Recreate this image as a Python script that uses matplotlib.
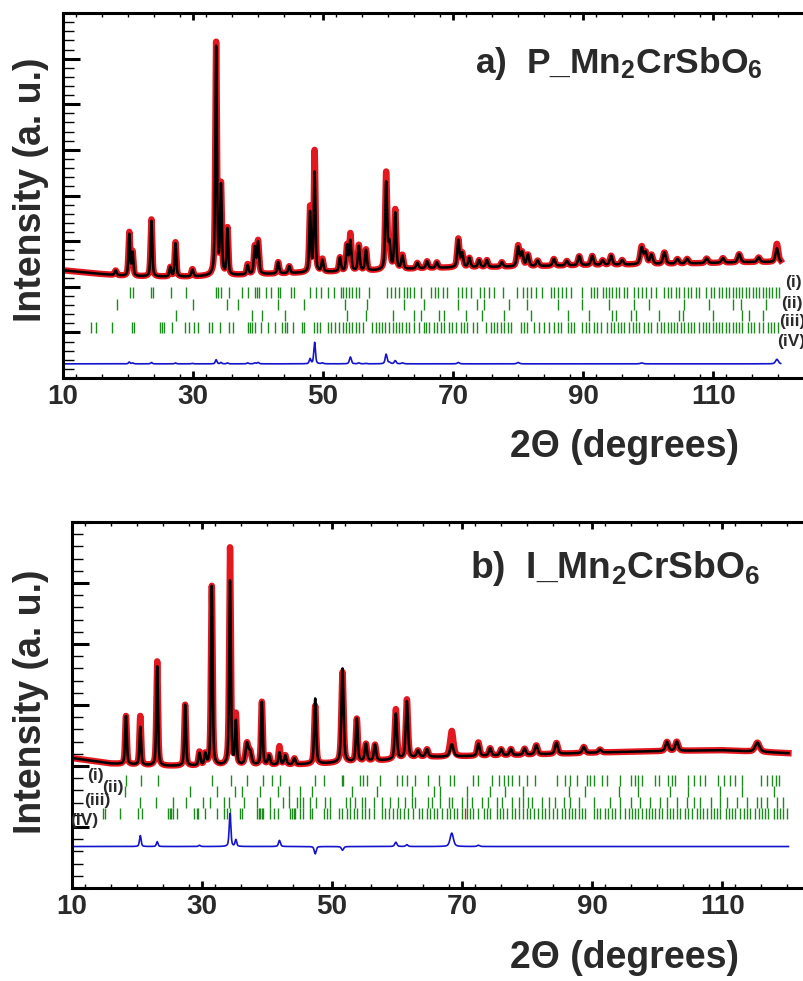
import numpy as np
import matplotlib
matplotlib.use('Agg')
import matplotlib.pyplot as plt
from matplotlib.ticker import MultipleLocator, NullFormatter

plt.rcParams['font.family'] = ['Liberation Sans', 'DejaVu Sans']
plt.rcParams['font.weight'] = 'bold'
plt.rcParams['mathtext.fontset'] = 'custom'
plt.rcParams['mathtext.rm'] = 'Liberation Sans:bold'
plt.rcParams['mathtext.default'] = 'rm'

# ------------------------------------------------------------------ data
# panel a) background knots (2theta, level)
a_bg_2theta = [10, 15, 20, 25, 30, 40, 50, 60, 65, 70, 80, 90, 100, 110, 116, 120.4]
a_bg_level = [2.36, 2.29, 2.23, 2.22, 2.22, 2.27, 2.32, 2.36, 2.40, 2.42, 2.44, 2.47, 2.49, 2.52, 2.54, 2.54]
# panel a) reflections: position, calculated height, observed height, width
a_peak_pos = [18.1, 20.2, 20.7, 23.6, 26.5, 27.3, 29.9, 33.55, 34.3, 35.3, 38.4, 39.5, 40.0,
              43.1, 44.8, 48.0, 48.7, 49.9, 52.6, 53.7, 54.2, 55.5, 56.6, 59.7, 60.2, 61.1,
              62.2, 64.5, 66.0, 67.5, 70.8, 71.4, 72.5, 74.0, 75.2, 77.5, 80.0, 80.6, 81.5,
              83.0, 85.5, 87.5, 89.4, 91.4, 93.0, 94.3, 96.0, 99.0, 99.6, 100.5, 102.5,
              104.5, 106.0, 109.0, 111.5, 114.0, 117.0, 119.8]
a_peak_calc = [0.10, 0.91, 0.50, 1.22, 0.20, 0.73, 0.15, 5.02, 1.92, 1.00, 0.20, 0.58, 0.69,
               0.25, 0.15, 1.30, 2.18, 0.25, 0.30, 0.55, 0.65, 0.54, 0.45, 1.90, 0.55, 1.23,
               0.28, 0.12, 0.15, 0.12, 0.59, 0.30, 0.20, 0.15, 0.15, 0.10, 0.42, 0.30, 0.25,
               0.12, 0.15, 0.10, 0.20, 0.20, 0.10, 0.20, 0.10, 0.36, 0.25, 0.20, 0.25,
               0.10, 0.10, 0.10, 0.10, 0.18, 0.10, 0.30]
a_peak_obs = [0.10, 0.95, 0.52, 1.25, 0.20, 0.75, 0.16, 5.11, 1.95, 1.02, 0.22, 0.60, 0.72,
              0.25, 0.15, 1.41, 2.65, 0.27, 0.30, 0.55, 0.80, 0.56, 0.46, 2.11, 0.58, 1.30,
              0.30, 0.12, 0.15, 0.12, 0.62, 0.30, 0.20, 0.15, 0.15, 0.10, 0.45, 0.30, 0.25,
              0.12, 0.15, 0.10, 0.20, 0.20, 0.10, 0.20, 0.10, 0.38, 0.25, 0.20, 0.25,
              0.10, 0.10, 0.10, 0.10, 0.18, 0.10, 0.40]
a_peak_fwhm = [0.35, 0.30, 0.30, 0.30, 0.30, 0.30, 0.35, 0.30, 0.30, 0.30, 0.35, 0.35, 0.35,
               0.35, 0.35, 0.30, 0.30, 0.35, 0.35, 0.35, 0.35, 0.35, 0.35, 0.35, 0.40, 0.35,
               0.40, 0.40, 0.40, 0.40, 0.40, 0.40, 0.40, 0.40, 0.40, 0.40, 0.45, 0.45, 0.45,
               0.45, 0.45, 0.45, 0.45, 0.45, 0.45, 0.45, 0.45, 0.50, 0.50, 0.50, 0.50,
               0.50, 0.50, 0.50, 0.50, 0.50, 0.50, 0.50]
# panel a) Bragg positions of phases (i)-(iv)
a_ticks_i = [20.3, 20.8, 23.5, 23.9, 26.6, 28.9, 33.5, 33.9, 34.3, 35.5, 37.6, 38.4, 39.5, 39.8,
             40.2, 41.2, 42.0, 43.0, 43.3, 45.0, 45.5, 48.0, 48.9, 49.7, 50.7, 51.7, 52.7, 53.1,
             53.5, 54.0, 54.5, 55.0, 55.5, 57.0, 59.9, 60.5, 61.1, 61.7, 62.4, 62.9, 63.4, 64.0,
             65.1, 66.6, 67.2, 67.7, 68.4, 69.1, 70.7, 71.3, 72.0, 72.7, 74.2, 74.8, 75.5, 76.3,
             77.7, 79.9, 80.7, 81.3, 82.0, 82.7, 83.6, 85.0, 85.5, 86.1, 86.8, 87.3, 88.1, 89.9,
             91.2, 91.7, 92.2, 93.0, 93.5, 94.0, 94.5, 95.0, 95.5, 96.3, 96.8, 97.8, 98.4, 99.1,
             99.6, 100.4, 101.2, 102.5, 103.0, 103.5, 104.3, 104.8, 105.5, 106.1, 106.6, 107.3,
             107.8, 108.9, 109.6, 110.2, 110.9, 111.4, 112.0, 112.5, 113.0, 113.5, 114.0, 114.5,
             115.0, 115.5, 116.1, 116.6, 117.1, 117.6, 118.1, 118.6, 119.1, 119.6, 120.2]
a_ticks_ii = [18.3, 30.0, 35.3, 36.9, 43.0, 47.1, 53.3, 56.8, 62.5, 65.5, 70.7, 73.7, 74.8,
              78.6, 81.4, 86.1, 89.9, 94.0, 97.8, 100.2, 105.5, 109.4, 113.0, 114.3, 118.1]
a_ticks_iii = [27.4, 39.1, 40.6, 44.2, 53.7, 56.6, 60.7, 64.0, 65.0, 67.8, 68.6, 72.0, 74.5,
               77.8, 82.0, 87.6, 90.9, 94.5, 95.0, 97.3, 98.1, 101.7, 104.8, 105.3, 109.9,
               114.5, 115.5, 117.6]
a_ticks_iv = [14.3, 15.1, 17.5, 20.6, 20.9, 24.9, 25.2, 25.5, 26.8, 28.8, 29.4, 30.1, 30.8,
              32.5, 32.9, 34.2, 35.5, 36.1, 38.4, 38.7, 39.1, 39.5, 40.4, 41.6, 42.6, 43.7,
              44.1, 44.4, 45.3, 46.7, 47.1, 48.6, 49.1, 49.6, 50.7, 51.2, 51.9, 52.5, 53.0,
              53.5, 54.0, 54.5, 55.0, 55.5, 56.1, 57.6, 58.1, 58.6, 59.1, 59.6, 60.2, 60.7,
              61.2, 61.7, 62.2, 62.7, 63.2, 64.0, 64.8, 65.5, 65.9, 66.3, 67.1, 67.6, 68.1,
              68.6, 69.4, 69.9, 70.4, 71.2, 71.7, 72.2, 73.0, 73.7, 75.0, 75.8, 76.3, 76.8,
              77.3, 77.8, 78.4, 78.9, 80.4, 80.9, 81.4, 82.5, 83.2, 84.0, 84.8, 85.5, 86.1,
              86.6, 87.6, 88.1, 88.6, 89.9, 90.4, 90.9, 91.7, 92.2, 92.7, 93.7, 94.3, 94.8,
              95.3, 95.8, 96.3, 97.1, 97.6, 98.1, 98.6, 99.4, 99.9, 100.4, 101.4, 102.0,
              102.5, 103.0, 103.5, 104.0, 104.5, 105.0, 105.5, 106.1, 106.6, 107.1, 107.8,
              108.4, 108.9, 109.4, 109.9, 110.4, 110.9, 111.4, 112.0, 112.5, 113.0, 113.5,
              114.0, 114.5, 115.3, 115.8, 116.3, 117.1, 117.6, 118.4, 118.9, 119.4, 119.9]

# panel b)
b_bg_2theta = [10, 16, 23.5, 29, 44, 49, 59.4, 63.5, 66.6, 79, 94.3, 109.7, 120.2]
b_bg_level = [2.13, 2.04, 2.00, 2.00, 2.02, 2.04, 2.10, 2.15, 2.15, 2.18, 2.23, 2.26, 2.21]
b_peak_pos = [18.3, 20.5, 23.1, 27.4, 29.6, 30.5, 31.5, 34.3, 35.2, 36.9, 37.4, 39.2, 40.3,
              41.9, 42.8, 44.2, 47.4, 51.6, 53.8, 55.2, 56.6, 59.8, 61.5, 63.2, 64.6, 68.4,
              72.5, 74.3, 76.0, 77.5, 79.6, 81.4, 84.5, 88.7, 91.2, 101.5, 103.0, 115.4]
b_peak_calc = [0.79, 0.62, 1.63, 1.00, 0.20, 0.18, 2.94, 3.02, 0.70, 0.34, 0.20, 1.03, 0.15,
               0.20, 0.15, 0.10, 1.07, 1.54, 0.70, 0.28, 0.26, 0.75, 0.93, 0.10, 0.12, 0.20,
               0.20, 0.12, 0.10, 0.10, 0.10, 0.15, 0.18, 0.10, 0.05, 0.15, 0.15, 0.15]
b_peak_obs = [0.79, 0.80, 1.71, 1.00, 0.22, 0.18, 2.94, 3.56, 0.81, 0.34, 0.20, 1.03, 0.15,
              0.30, 0.15, 0.10, 0.95, 1.48, 0.70, 0.28, 0.26, 0.82, 0.96, 0.10, 0.12, 0.42,
              0.22, 0.12, 0.10, 0.10, 0.10, 0.15, 0.18, 0.10, 0.05, 0.15, 0.15, 0.15]
b_peak_fwhm = [0.30, 0.30, 0.30, 0.30, 0.35, 0.35, 0.30, 0.30, 0.30, 0.50, 0.50, 0.30, 0.40,
               0.35, 0.40, 0.40, 0.35, 0.40, 0.35, 0.40, 0.40, 0.40, 0.40, 0.45, 0.45, 0.60,
               0.45, 0.45, 0.45, 0.45, 0.45, 0.50, 0.50, 0.50, 0.50, 0.55, 0.55, 0.80]
b_ticks_i = [18.3, 20.6, 23.2, 31.6, 34.4, 36.9, 39.4, 40.7, 42.0, 47.4, 48.7, 51.5, 51.7, 54.3,
             54.8, 55.3, 57.4, 60.0, 60.7, 61.5, 62.8, 64.8, 66.4, 68.2, 68.7, 71.7, 72.5, 74.6,
             75.6, 76.4, 77.1, 77.6, 78.7, 80.0, 81.2, 84.6, 85.8, 86.6, 87.6, 89.2, 89.7, 90.2,
             91.5, 92.3, 94.3, 95.9, 96.6, 97.1, 97.6, 99.7, 100.2, 101.7, 102.3, 102.8, 104.8,
             105.6, 106.6, 107.4, 109.4, 110.2, 111.2, 112.0, 113.0, 115.9, 116.9, 117.6, 118.2,
             118.7]
b_ticks_ii = [18.1, 28.1, 32.3, 35.1, 36.1, 38.9, 41.7, 43.3, 45.1, 46.9, 53.0, 56.9, 62.3, 65.6,
              66.6, 70.7, 74.3, 76.6, 79.4, 86.4, 88.9, 94.1, 97.1, 102.0, 104.8, 109.7, 113.0,
              117.9]
b_ticks_iii = [20.5, 22.9, 25.5, 27.6, 30.1, 31.2, 33.3, 34.2, 36.4, 38.4, 40.4, 42.5, 43.3, 44.6,
               45.1, 45.6, 46.6, 47.6, 48.9, 49.7, 52.2, 52.8, 53.5, 54.6, 55.1, 56.4, 57.6, 58.9,
               60.2, 61.2, 62.3, 62.8, 64.8, 65.3, 66.6, 67.9, 68.4, 70.0, 70.7, 71.5, 73.0, 74.0,
               75.3, 76.1, 77.6, 78.7, 79.4, 80.2, 80.7, 82.3, 83.3, 84.3, 85.6, 86.6, 87.9, 90.2,
               92.8, 94.3, 95.9, 97.4, 98.9, 100.5, 101.5, 103.0, 104.6, 105.6, 106.6, 108.2,
               109.7, 110.7, 112.3, 113.8, 115.3, 115.9, 116.9, 118.4, 119.4]
b_ticks_iv = [14.8, 15.1, 17.4, 20.2, 20.7, 24.8, 25.1, 25.3, 25.6, 26.2, 28.7, 29.2, 29.4, 30.5,
              32.3, 33.3, 33.8, 34.3, 35.8, 36.1, 38.4, 38.7, 38.9, 39.2, 39.4, 40.5, 41.0, 41.7,
              43.5, 43.8, 44.1, 44.3, 45.1, 45.6, 46.6, 46.9, 48.7, 49.2, 49.7, 51.0, 51.5, 52.3,
              52.8, 53.3, 53.8, 54.6, 55.1, 55.6, 56.4, 57.6, 58.1, 58.7, 59.4, 60.0, 60.5, 61.0,
              61.7, 62.5, 63.3, 63.8, 64.6, 65.1, 65.6, 66.1, 66.9, 67.6, 68.2, 68.7, 69.2, 70.0,
              70.7, 71.2, 71.7, 72.5, 73.3, 73.8, 74.3, 75.3, 75.8, 76.3, 76.9, 77.6, 78.1, 78.7,
              79.4, 80.0, 80.5, 81.0, 81.7, 82.3, 82.8, 83.3, 84.0, 84.6, 85.3, 85.8, 86.4, 86.9,
              87.4, 87.9, 88.4, 88.9, 90.2, 90.7, 91.2, 92.0, 92.5, 93.0, 93.5, 94.3, 95.1, 95.6,
              96.1, 96.6, 97.1, 97.6, 98.2, 98.7, 99.2, 99.7, 100.2, 100.7, 101.5, 102.0, 102.5,
              103.0, 103.5, 104.3, 104.8, 105.3, 106.1, 106.6, 107.1, 107.6, 108.2, 108.7, 109.2,
              109.7, 110.5, 111.0, 111.5, 112.0, 112.8, 113.3, 113.8, 114.3, 115.1, 115.6, 116.1,
              116.6, 117.1, 117.9, 118.4, 118.9, 119.4, 119.9]
b_ticks_red = [70.4]

phase_labels_a = ['(i)', '(ii)', '(iii)', '(iV)']
phase_labels_b = ['(i)', '(ii)', '(iii)', '(IV)']
x_tick_labels = ['10', '30', '50', '70', '90', '110']

# ------------------------------------------------------------------ helpers
def profile(x, pos, heights, fwhm, eta=0.5):
    y = np.zeros_like(x)
    for p, h, w in zip(pos, heights, fwhm):
        g = np.exp(-4 * np.log(2) * ((x - p) / w) ** 2)
        l = 1.0 / (1.0 + 4 * ((x - p) / w) ** 2)
        y += h * (eta * l + (1 - eta) * g)
    return y

TXT = '#2a2a2a'
GREEN = '#1d8a1d'
W, H = 804, 981

fig = plt.figure(figsize=(8.04, 9.81), dpi=100)

def make_panel(rect, xmax, ymax, bg_x, bg_y, pos, calc_h, obs_h, fwhm, ticks, tick_rows,
               diff_off, x_end, title, title_px, title_size, ylab_px, xlab_px, plabels,
               plabel_xy):
    ax = fig.add_axes(rect)
    x = np.arange(10, x_end, 0.02)
    bg = np.interp(x, bg_x, bg_y)
    calc = bg + profile(x, pos, calc_h, fwhm)
    obs = bg + profile(x, pos, obs_h, fwhm)
    diff = obs - calc + diff_off
    ax.plot(x, obs, color='#e3171e', lw=4.6, zorder=2)
    ax.plot(x[::2], obs[::2], 's', color='#e3171e', ms=2.6, mew=0, zorder=2)
    ax.plot(x, calc, color='black', lw=1.8, zorder=3)
    for tk, (y0, y1) in zip(ticks, tick_rows):
        ax.vlines(tk, y0, y1, color=GREEN, lw=1.0, zorder=2)
    ax.plot(x, diff, color='#1414cc', lw=1.2, zorder=2)
    ax.set_xlim(10, xmax)
    ax.set_ylim(0, ymax)
    ax.xaxis.set_minor_locator(MultipleLocator(4))
    ax.set_xticks([10, 30, 50, 70, 90, 110])
    ax.set_xticklabels(x_tick_labels)
    ax.yaxis.set_major_locator(MultipleLocator(1))
    ax.yaxis.set_minor_locator(MultipleLocator(0.2))
    ax.yaxis.set_major_formatter(NullFormatter())
    ax.tick_params(axis='x', which='major', direction='in', top=True, length=5, width=2,
                   labelsize=20, pad=4, labelcolor=TXT)
    ax.tick_params(axis='x', which='minor', direction='in', top=True, length=3, width=1)
    ax.tick_params(axis='y', which='major', direction='in', length=12, width=2.2)
    ax.tick_params(axis='y', which='minor', direction='in', length=8, width=1)
    for lab in ax.get_xticklabels():
        lab.set_fontweight('bold')
    for s in ax.spines.values():
        s.set_linewidth(2.2)
    fig.text(title_px[0] / W, 1 - title_px[1] / H, title, fontsize=title_size,
             fontweight='bold', color=TXT, ha='left', va='baseline')
    fig.text(ylab_px[0] / W, 1 - ylab_px[1] / H, 'Intensity (a. u.)', rotation=90,
             fontsize=27, fontweight='bold', color=TXT, ha='center', va='center')
    fig.text(xlab_px[0] / W, 1 - xlab_px[1] / H, '2Θ (degrees)', fontsize=27,
             fontweight='bold', color=TXT, ha='center', va='center')
    for lab, (lx, ly) in zip(plabels, plabel_xy):
        ax.text(lx, ly, lab, fontsize=12.5, fontweight='bold', color=TXT, ha='left',
                va='center', clip_on=False)
    return ax

# panel a
axa = make_panel([63 / W, 1 - 378 / H, 749 / W, 365 / H], 125.2, 8,
                 a_bg_2theta, a_bg_level, a_peak_pos, a_peak_calc, a_peak_obs, a_peak_fwhm,
                 [a_ticks_i, a_ticks_ii, a_ticks_iii, a_ticks_iv],
                 [(1.76, 1.99), (1.50, 1.74), (1.24, 1.48), (0.98, 1.22)],
                 0.31, 120.4, r'a)  P_Mn$_2$CrSbO$_6$', (475, 73), 25.5, (31, 190), (625, 447),
                 phase_labels_a, [(121.0, 2.10), (120.4, 1.64), (120.2, 1.23), (119.9, 0.79)])

# panel b
axb = make_panel([72 / W, 1 - 888 / H, 740 / W, 366 / H], 123.8, 6,
                 b_bg_2theta, b_bg_level, b_peak_pos, b_peak_calc, b_peak_obs, b_peak_fwhm,
                 [b_ticks_i, b_ticks_ii, b_ticks_iii, b_ticks_iv],
                 [(1.68, 1.86), (1.49, 1.67), (1.31, 1.49), (1.13, 1.31)],
                 0.68, 120.2, r'b)  I_Mn$_2$CrSbO$_6$', (470, 578), 26.8, (31, 702), (625, 958),
                 phase_labels_b, [(12.3, 1.84), (14.6, 1.65), (11.9, 1.44), (9.7, 1.11)])
axb.vlines(b_ticks_red, 1.13, 1.31, color='#e02020', lw=1.0, zorder=2)

fig.savefig('out.png', dpi=100)
